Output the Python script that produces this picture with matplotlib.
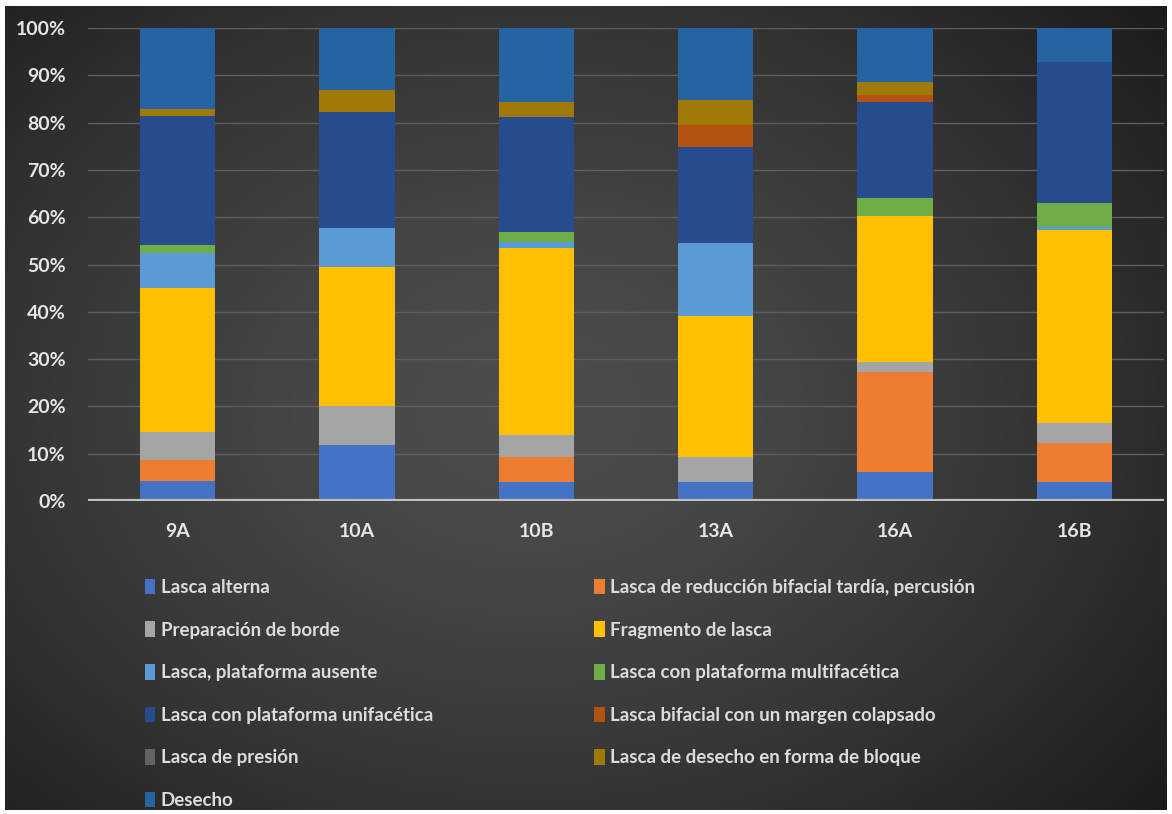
import numpy as np
import matplotlib.pyplot as plt
from matplotlib.patches import Patch

# sample groups
sites = ['9A', '10A', '10B', '13A', '16A', '16B']

# percentages per category, bottom to top
alterna      = [4.2, 11.8, 4.0, 4.0, 6.1, 4.0]
reduccion    = [4.5, 0.0, 5.3, 0.0, 21.2, 8.3]
preparacion  = [5.9, 8.2, 4.7, 5.3, 2.1, 4.2]
fragmento    = [30.4, 29.5, 39.5, 29.8, 30.9, 40.8]
ausente      = [7.4, 8.2, 1.2, 15.4, 0.0, 0.7]
multifacet   = [1.7, 0.0, 2.2, 0.0, 3.8, 5.0]
unifacet     = [27.2, 24.5, 24.3, 20.3, 20.3, 29.8]
colapsado    = [0.0, 0.0, 0.0, 4.7, 1.4, 0.0]
presion      = [0.0, 0.0, 0.0, 0.0, 0.0, 0.0]
bloque       = [1.5, 4.7, 3.2, 5.3, 2.8, 0.0]
desecho      = [17.2, 13.1, 15.6, 15.2, 11.4, 7.2]

labels = ['Lasca alterna',
          'Lasca de reducción bifacial tardía, percusión',
          'Preparación de borde',
          'Fragmento de lasca',
          'Lasca, plataforma ausente',
          'Lasca con plataforma multifacética',
          'Lasca con plataforma unifacética',
          'Lasca bifacial con un margen colapsado',
          'Lasca de presión',
          'Lasca de desecho en forma de bloque',
          'Desecho']
series = [alterna, reduccion, preparacion, fragmento, ausente, multifacet,
          unifacet, colapsado, presion, bloque, desecho]
colors = ['#4472C4', '#ED7D31', '#A5A5A5', '#FFC000', '#5B9BD5', '#70AD47',
          '#264C8E', '#B4520F', '#636363', '#A07A08', '#2563A3']

W, H = 1172, 814
fig = plt.figure(figsize=(W / 100, H / 100), dpi=100, facecolor='white')
plt.rcParams['font.family'] = ['Lato', 'DejaVu Sans']

# dark gradient background inside a thin white frame
bg = fig.add_axes([5 / W, 4 / H, 1 - 10 / W, 1 - 10 / H])
gx = np.linspace(-1, 1, 400)
gy = np.linspace(-1, 1, 300)
X, Y = np.meshgrid(gx, gy)
r = np.sqrt(((X + 0.1) / 1.1) ** 2 + (Y / 1.2) ** 2)
shade = 0.30 - 0.13 * np.clip(r, 0, 1.3) ** 1.5
bg.imshow(np.dstack([shade] * 3), aspect='auto', extent=[0, 1, 0, 1])
bg.axis('off')

ax = fig.add_axes([88 / W, 1 - 501 / H, (1164 - 88) / W, (501 - 28) / H])
ax.patch.set_alpha(0)
x = np.arange(len(sites))
bottom = np.zeros(len(sites))
for vals, col, lab in zip(series, colors, labels):
    ax.bar(x, vals, bottom=bottom, width=0.42, color=col, label=lab, zorder=3)
    bottom += np.array(vals)

ax.set_xlim(-0.5, len(sites) - 0.5)
ax.set_ylim(0, 100)
ax.set_yticks(np.arange(0, 101, 10))
ax.set_yticklabels([f'{v}%' for v in range(0, 101, 10)])
ax.set_xticks(x)
ax.set_xticklabels(sites)
ax.tick_params(length=0, colors='#e6e6e6', labelsize=14)
ax.tick_params(axis='y', pad=16)
ax.tick_params(axis='x', pad=16)
for t in ax.get_xticklabels() + ax.get_yticklabels():
    t.set_fontweight('bold')
ax.grid(axis='y', color='#5e5e5e', linewidth=1, zorder=0)
for s in ax.spines.values():
    s.set_visible(False)
ax.axhline(0, color='#bfbfbf', linewidth=3, zorder=4)

# legend laid out row by row in two columns
order = [0, 2, 4, 6, 8, 10, 1, 3, 5, 7, 9]
handles = [Patch(facecolor=colors[i], label=labels[i]) for i in order]
leg = fig.legend(handles=handles, ncol=2, loc='upper left',
                 bbox_to_anchor=(128 / W, 1 - 562 / H), frameon=False,
                 fontsize=13.5, labelcolor='#dcdcdc', handlelength=0.55,
                 handleheight=0.9, handletextpad=0.3, labelspacing=1.35,
                 columnspacing=8.6)
for t in leg.get_texts():
    t.set_fontweight('bold')

fig.savefig('out.png', dpi=100, facecolor='white')
